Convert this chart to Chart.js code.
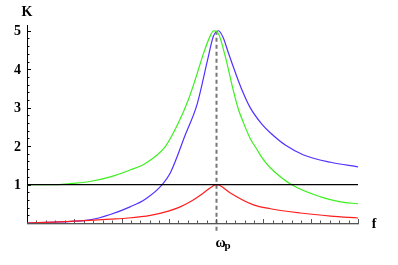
<!DOCTYPE html>
<html>
<head>
<meta charset="utf-8">
<script src="https://cdn.jsdelivr.net/npm/chart.js@4/dist/chart.umd.min.js"></script>
<style>
    body { margin: 0; background: #fff; }
    #wrap { width: 398px; height: 265px; }
</style>
</head>
<body>
<div id="wrap"><canvas id="k-chart" width="398" height="265"></canvas></div>
<script>
'use strict';

// frequency axis runs 0..7, resonance at 4
const fMax = 7;
const kMax = 5.15;
const omegaP = 4;
const yTicks = [1, 2, 3, 4, 5];

const blueF = [0, 0.70, 1.33, 1.76, 2.18, 2.50, 2.86, 3.03, 3.35, 3.60, 3.83, 3.94, 4.05, 4.15, 4.26, 4.41, 4.56, 4.72, 4.98, 5.15, 5.47, 5.85, 6.42, 7];
const blueK = [0, 0.03, 0.08, 0.22, 0.42, 0.62, 1.0, 1.3, 2.3, 3.1, 4.3, 4.85, 5.0, 4.82, 4.42, 3.9, 3.42, 3.0, 2.55, 2.34, 2.02, 1.77, 1.58, 1.46];

const greenF = [0, 0.64, 0.95, 1.33, 1.76, 2.18, 2.50, 2.92, 3.20, 3.41, 3.55, 3.73, 3.88, 3.95, 4.05, 4.20, 4.36, 4.47, 4.58, 4.72, 4.87, 4.98, 5.15, 5.59, 6.21, 6.63, 7];
const greenK = [1.0, 1.0, 1.03, 1.08, 1.2, 1.38, 1.55, 1.98, 2.6, 3.2, 3.7, 4.4, 4.88, 5.0, 4.92, 4.3, 3.46, 2.96, 2.6, 2.2, 1.9, 1.68, 1.43, 1.0, 0.68, 0.55, 0.5];

const redF = [0, 0.70, 1.33, 1.76, 2.14, 2.61, 2.99, 3.24, 3.45, 3.73, 3.94, 4.0, 4.07, 4.30, 4.79, 5.15, 5.78, 6.42, 7];
const redK = [0, 0.03, 0.07, 0.1, 0.13, 0.2, 0.31, 0.42, 0.55, 0.78, 0.97, 1.0, 0.98, 0.78, 0.47, 0.37, 0.26, 0.18, 0.13];

const unityF = [0, 7];
const unityK = [1, 1];

function toPoints(xs, ys) {
    return xs.map((x, i) => ({ x: x, y: ys[i] }));
}

const labelFont = 'bold 14px "Liberation Serif", "DejaVu Serif", serif';

// axes, ticks, dashed marker and labels drawn on the library's scales
const axesPlugin = {
    id: 'mathAxes',
    beforeDatasetsDraw(chart) {
        const ctx = chart.ctx;
        const xs = chart.scales.x;
        const ys = chart.scales.y;
        const x0 = xs.getPixelForValue(0);
        const y0 = ys.getPixelForValue(0);
        const xEnd = xs.getPixelForValue(fMax);
        const yTop = ys.getPixelForValue(kMax);
        ctx.save();

        // dashed line at the resonance
        const xp = Math.round(xs.getPixelForValue(omegaP)) + 0.5;
        ctx.strokeStyle = '#777';
        ctx.lineWidth = 2;
        ctx.setLineDash([4, 3]);
        ctx.beginPath();
        ctx.moveTo(xp, ys.getPixelForValue(5));
        ctx.lineTo(xp, y0 + 9);
        ctx.stroke();
        ctx.setLineDash([]);

        // y axis
        ctx.strokeStyle = '#000';
        ctx.lineWidth = 1;
        ctx.beginPath();
        ctx.moveTo(x0 + 0.5, yTop);
        ctx.lineTo(x0 + 0.5, y0);
        for (let v = 0.2; v < kMax; v += 0.2) {
            const yy = Math.round(ys.getPixelForValue(v)) + 0.5;
            const major = Math.abs(v - Math.round(v)) < 0.01;
            ctx.moveTo(x0, yy);
            ctx.lineTo(x0 + (major ? 4 : 2.5), yy);
        }
        ctx.stroke();

        // x axis
        ctx.strokeStyle = '#c8c8c8';
        ctx.beginPath();
        ctx.moveTo(x0, y0 + 1.5);
        ctx.lineTo(xEnd + 1, y0 + 1.5);
        ctx.stroke();
        ctx.strokeStyle = '#555';
        ctx.beginPath();
        ctx.moveTo(x0, y0 + 0.5);
        ctx.lineTo(xEnd + 1, y0 + 0.5);
        for (let v = 0.2; v <= fMax + 0.01; v += 0.2) {
            const xx = Math.round(xs.getPixelForValue(v)) + 0.5;
            const major = Math.abs(v - Math.round(v)) < 0.01;
            ctx.moveTo(xx, y0);
            ctx.lineTo(xx, y0 - (major ? 4 : 2.5));
        }
        ctx.stroke();

        // labels
        ctx.fillStyle = '#000';
        ctx.font = labelFont;
        ctx.textAlign = 'right';
        ctx.textBaseline = 'middle';
        yTicks.forEach(t => {
            ctx.fillText(String(t), x0 - 6, ys.getPixelForValue(t) + 1);
        });
        ctx.textAlign = 'center';
        ctx.fillText('K', x0, 12);
        ctx.fillText('f', xEnd + 16, y0 + 1);
        ctx.textAlign = 'left';
        ctx.fillText('\u03c9', xp - 1, y0 + 20);
        ctx.font = 'bold 11px "Liberation Serif", "DejaVu Serif", serif';
        ctx.fillText('p', xp + 8, y0 + 23);
        ctx.restore();
    }
};

function lineSet(xs, ys, color) {
    return {
        data: toPoints(xs, ys),
        borderColor: color,
        borderWidth: 1.2,
        pointRadius: 0,
        cubicInterpolationMode: 'monotone',
        fill: false,
    };
}

window.myChart = new Chart(document.getElementById('k-chart'), {
    type: 'line',
    data: {
        datasets: [
            lineSet(unityF, unityK, '#000'),
            lineSet(redF, redK, 'rgb(255,30,30)'),
            lineSet(greenF, greenK, 'rgb(60,240,30)'),
            lineSet(blueF, blueK, 'rgb(80,50,255)'),
        ],
    },
    options: {
        responsive: false,
        animation: false,
        layout: {
            padding: { left: 27, top: 25, right: 40, bottom: 42 },
        },
        plugins: {
            legend: { display: false },
            tooltip: { enabled: false },
        },
        scales: {
            x: { type: 'linear', min: 0, max: fMax, display: false },
            y: { type: 'linear', min: 0, max: kMax, display: false },
        },
    },
    plugins: [axesPlugin],
});
</script>
</body>
</html>
